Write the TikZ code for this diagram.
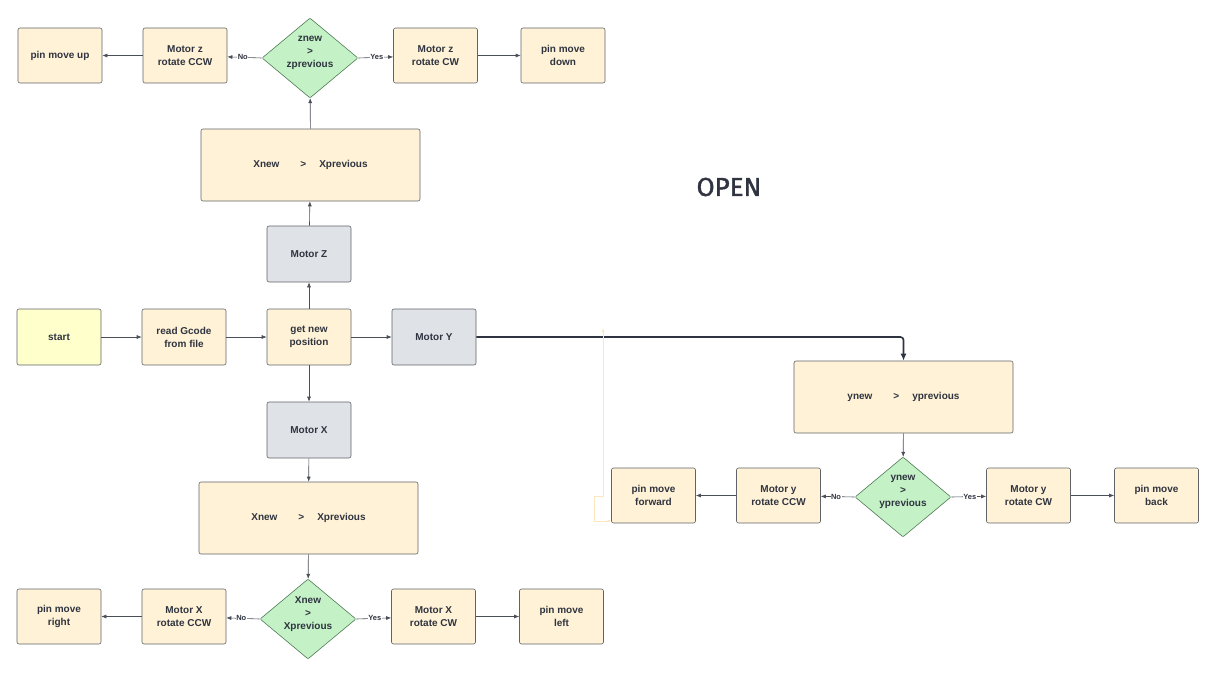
\documentclass[tikz,border=0pt]{standalone}
\usepackage{fontspec}
\setmainfont{Liberation Sans}
\newfontfamily\openfont{Fira Sans}[FakeBold=1.6]
\usetikzlibrary{shapes.geometric,arrows.meta}
\definecolor{boxfill}{HTML}{FFF2D6}
\definecolor{boxline}{HTML}{5F6368}
\definecolor{grayfill}{HTML}{DFE2E7}
\definecolor{startfill}{HTML}{FFFFCC}
\definecolor{dfill}{HTML}{C4F2C6}
\definecolor{dline}{HTML}{4F7A55}
\definecolor{arr}{HTML}{4A4F57}
\definecolor{faint}{HTML}{FCE6BF}
\definecolor{txt}{HTML}{2F3440}
\begin{document}
\begin{tikzpicture}[x=1pt,y=-1pt,
  base/.style={draw=boxline, line width=0.6pt, rounded corners=2pt, align=center, font=\bfseries\fontsize{10}{13}\selectfont, text=txt, inner sep=0pt},
  sbox/.style={base, fill=boxfill, minimum width=84pt, minimum height=55pt},
  gbox/.style={base, fill=grayfill, minimum width=84pt, minimum height=56pt},
  wbox/.style={base, fill=boxfill, minimum width=219pt, minimum height=72pt},
  dia/.style={base, diamond, fill=dfill, draw=dline, minimum width=96pt, minimum height=80pt, rounded corners=1pt},
  dtext/.style={align=center, font=\bfseries\fontsize{10}{13}\selectfont, text=txt, inner sep=0pt},
  con/.style={draw=arr, line width=0.6pt, -{Latex[length=5pt,width=4pt]}},
  lab/.style={fill=white, inner sep=0.5pt, font=\bfseries\fontsize{7.5}{8}\selectfont, text=txt}
]
\useasboundingbox (0,0) rectangle (1215,677);
% top row
\node[sbox] (pup) at (60,55.5) {pin move up};
\node[sbox] (zccw) at (185,55.5) {Motor z\\rotate CCW};
\node[dia] (zd) at (310,58) {};
\node[dtext] (zdt) at ([yshift=5pt]zd.center) {znew\\>\\zprevious};
\node[sbox] (zcw) at (435.5,55.5) {Motor z\\rotate CW};
\node[sbox] (pdown) at (563,55.5) {pin move\\down};
\node[wbox] (xtop) at (310.5,165) {Xnew\hspace{2.1em}>\hspace{1.3em}Xprevious};
\node[gbox] (mz) at (309,254) {Motor Z};
% middle row
\node[sbox, fill=startfill, minimum height=56pt] (start) at (59,337) {start};
\node[sbox, minimum height=56pt] (read) at (184,337) {read Gcode\\from file};
\node[sbox, minimum height=56pt] (get) at (309,337) {get new\\position};
\node[gbox] (my) at (434,337) {Motor Y};
\node[gbox] (mx) at (309,430) {Motor X};
\node[wbox] (xbot) at (308.5,518) {Xnew\hspace{2.1em}>\hspace{1.3em}Xprevious};
% bottom row
\node[sbox] (pright) at (59,616.5) {pin move\\right};
\node[sbox] (xccw) at (184,616.5) {Motor X\\rotate CCW};
\node[dia] (xd) at (308,619) {};
\node[dtext] (xdt) at ([yshift=5pt]xd.center) {Xnew\\>\\Xprevious};
\node[sbox] (xcw) at (433.5,616.5) {Motor X\\rotate CW};
\node[sbox] (pleft) at (561.5,616.5) {pin move\\left};
% right part
\node[wbox] (ybox) at (903.5,397) {ynew\hspace{2.1em}>\hspace{1.3em}yprevious};
\node[sbox] (pfwd) at (653.5,495.5) {pin move\\forward};
\node[sbox] (yccw) at (778.5,495.5) {Motor y\\rotate CCW};
\node[dia] (yd) at (903,497) {};
\node[dtext] (ydt) at ([yshift=5pt]yd.center) {ynew\\>\\yprevious};
\node[sbox] (ycw) at (1028.5,495.5) {Motor y\\rotate CW};
\node[sbox] (pback) at (1156.5,495.5) {pin move\\back};
\node[font=\openfont\fontsize{26}{28}\selectfont, text=txt] (open) at (729,187) {OPEN};
% connectors
\draw[con] (start) -- (read);
\draw[con] (read) -- (get);
\draw[con] (get) -- (my);
\draw[con] (get) -- (mz);
\draw[con] (mz) -- (xtop);
\draw[con] (xtop) -- (zd);
\draw[con] (zd.west) -- node[lab, pos=0.55] {No} (zccw);
\draw[con] (zccw) -- (pup);
\draw[con] (zd.east) -- node[lab, pos=0.53] {Yes} (zcw);
\draw[con] (zcw) -- (pdown);
\draw[con] (get) -- (mx);
\draw[con] (mx) -- (xbot);
\draw[con] (xbot) -- (xd);
\draw[con] (xd.west) -- node[lab, pos=0.55] {No} (xccw);
\draw[con] (xccw) -- (pright);
\draw[con] (xd.east) -- node[lab, pos=0.53] {Yes} (xcw);
\draw[con] (xcw) -- (pleft);
\draw[draw=txt, line width=1.6pt, rounded corners=3pt, -{Latex[length=7pt,width=6pt]}] (my.east) -| (ybox.north);
\draw[con] (ybox) -- (yd);
\draw[con] (yd.west) -- node[lab, pos=0.55] {No} (yccw);
\draw[con] (yccw) -- (pfwd);
\draw[con] (yd.east) -- node[lab, pos=0.53] {Yes} (ycw);
\draw[con] (ycw) -- (pback);
\coordinate (ftop) at (603,328);
\coordinate (fend) at (611.5,521);
\draw[draw=faint, line width=0.9pt, {Latex[length=4pt,width=3pt]}-{Latex[length=4pt,width=3pt]}] (ftop) -- (603,496) -- (594,496) -- (594,521) -- (fend);
\end{tikzpicture}
\end{document}
